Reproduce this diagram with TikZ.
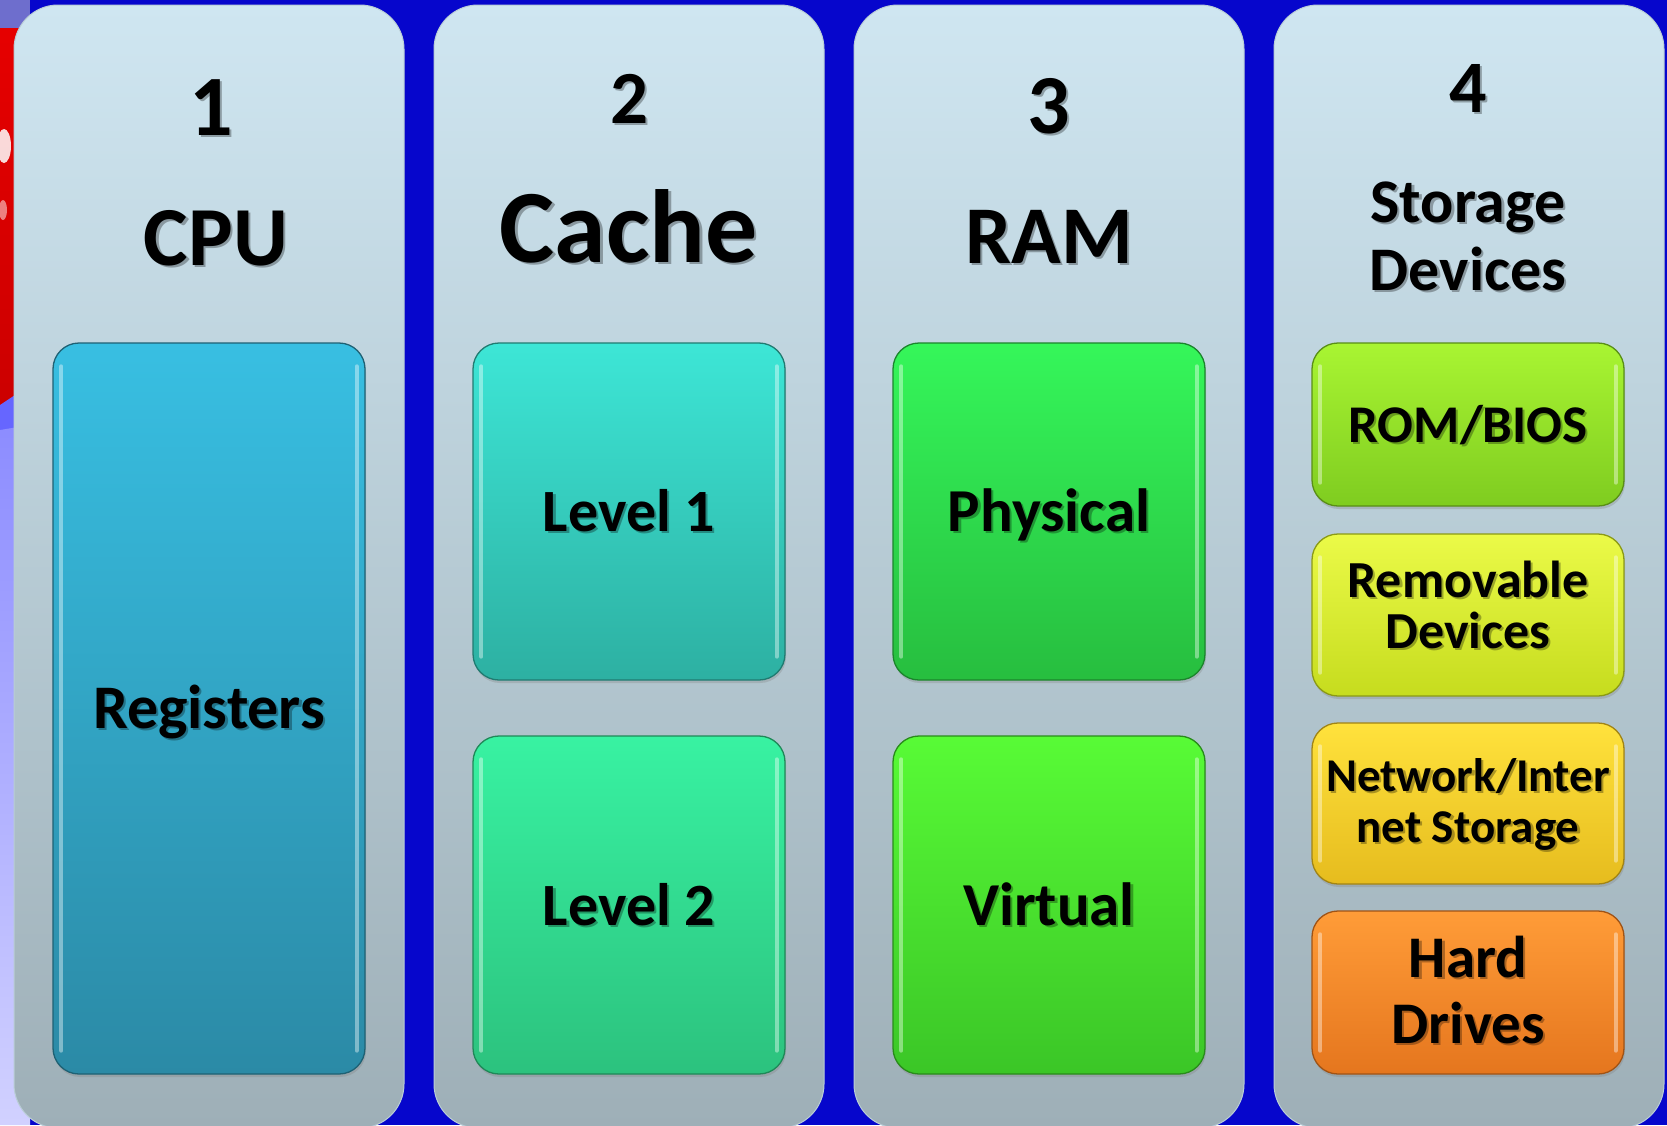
\documentclass[tikz,border=0pt]{standalone}
\usepackage{fontspec}
\setmainfont{Carlito}
\usetikzlibrary{shadows}

\definecolor{bgblue}{HTML}{0606CC}
\definecolor{paneltop}{HTML}{CFE6F1}
\definecolor{panelbot}{HTML}{9EAFB7}
\definecolor{panelrim}{HTML}{B9CDD6}

\definecolor{regT}{HTML}{38BFE2}\definecolor{regB}{HTML}{2B8AA6}
\definecolor{loneT}{HTML}{3DE6D6}\definecolor{loneB}{HTML}{2DB0A2}
\definecolor{ltwoT}{HTML}{38F2A2}\definecolor{ltwoB}{HTML}{2CC27E}
\definecolor{physT}{HTML}{35F65A}\definecolor{physB}{HTML}{27BE3F}
\definecolor{virtT}{HTML}{58FB36}\definecolor{virtB}{HTML}{3BC627}
\definecolor{romT}{HTML}{A9F532}\definecolor{romB}{HTML}{7FCC20}
\definecolor{remT}{HTML}{EBFA48}\definecolor{remB}{HTML}{C6DC1E}
\definecolor{netT}{HTML}{FFE23C}\definecolor{netB}{HTML}{E6BC1E}
\definecolor{hddT}{HTML}{FF9C38}\definecolor{hddB}{HTML}{E5761E}

\tikzset{
  panel/.style={rectangle, rounded corners=44pt, minimum width=390pt,
    minimum height=1123pt, top color=paneltop, bottom color=panelbot,
    draw=panelrim, line width=1pt, inner sep=0pt},
  membox/.style 2 args={rectangle, rounded corners=26pt, minimum width=312pt,
    inner sep=0pt, top color=#1, bottom color=#2, draw=#2!70!black,
    line width=1.3pt,
    drop shadow={opacity=0.3, shadow xshift=1pt, shadow yshift=-3pt}},
  gloss/.style={line width=4pt, line cap=round, draw=white, opacity=0.4},
  txtmain/.style={anchor=base, align=center, text=black, inner sep=0pt},
  txtshade/.style={anchor=base, align=center, text=black, opacity=0.3,
    inner sep=0pt},
}

% label with a soft offset shadow: name, position, font size/leading, text
\newcommand\shtxt[4]{%
  \node[txtshade, font={\bfseries#3}] (#1s) at ([shift={(2.2,2.2)}]#2) {#4};
  \node[txtmain, font={\bfseries#3}] (#1) at (#2) {#4};}

% glossy side streaks on a box
\newcommand\glossy[1]{%
  \draw[gloss] ([xshift=9pt,yshift=-24pt]#1.north west) -- ([xshift=9pt,yshift=24pt]#1.south west);
  \draw[gloss] ([xshift=-9pt,yshift=-24pt]#1.north east) -- ([xshift=-9pt,yshift=24pt]#1.south east);}

\begin{document}
\begin{tikzpicture}[x=1pt,y=-1pt]
\useasboundingbox (0,0) rectangle (1667,1125);

% backdrop
\fill[bgblue] (0,0) rectangle (1667,1125);
\fill[bgblue!60!white!80!gray] (0,0) rectangle (30,28);
\shade[top color=red!90!black, bottom color=red!80!black] (0,28) rectangle (30,405);
\fill[white, opacity=0.85] (4,146) ellipse (7 and 17);
\fill[white, opacity=0.5] (3,210) ellipse (4 and 10);
\fill[blue!60!white] (0,405) -- (30,385) -- (30,425) -- (0,460) -- cycle;
\shade[top color=blue!45!white, bottom color=blue!18!white] (0,430) -- (30,425) -- (30,1125) -- (0,1125) -- cycle;

% four columns
\node[panel] (pcpu)   at (209,566.5)  {};
\node[panel] (pcache) at (629,566.5)  {};
\node[panel] (pram)   at (1049,566.5) {};
\node[panel] (pstore) at (1469,566.5) {};

% column headings
\shtxt{n1}{211,135}{\fontsize{86}{86}\selectfont}{1}
\shtxt{hcpu}{216,265}{\fontsize{84}{84}\selectfont}{CPU}
\shtxt{n2}{629,123}{\fontsize{75}{75}\selectfont}{2}
\shtxt{hcache}{629,262}{\fontsize{104}{104}\selectfont}{Cache}
\shtxt{n3}{1049,133}{\fontsize{84}{84}\selectfont}{3}
\shtxt{hram}{1049,263}{\fontsize{82}{82}\selectfont}{RAM}
\shtxt{n4}{1468,112}{\fontsize{74}{74}\selectfont}{4}
\shtxt{hstore}{1468,290}{\fontsize{62}{68}\selectfont}{Storage\\Devices}

% memory boxes
\node[membox={regT}{regB},  minimum height=731pt] (reg)  at (209,708.5)  {};
\node[membox={loneT}{loneB},minimum height=337pt] (lone) at (629,511.5)  {};
\node[membox={ltwoT}{ltwoB},minimum height=338pt] (ltwo) at (629,905)    {};
\node[membox={physT}{physB},minimum height=337pt] (phys) at (1049,511.5) {};
\node[membox={virtT}{virtB},minimum height=338pt] (virt) at (1049,905)   {};
\node[membox={romT}{romB},  minimum height=163pt] (rom)  at (1468,424.5) {};
\node[membox={remT}{remB},  minimum height=162pt] (rem)  at (1468,615)   {};
\node[membox={netT}{netB},  minimum height=161pt] (net)  at (1468,803.5) {};
\node[membox={hddT}{hddB},  minimum height=163pt] (hdd)  at (1468,992.5) {};

\glossy{reg}\glossy{lone}\glossy{ltwo}\glossy{phys}\glossy{virt}
\glossy{rom}\glossy{rem}\glossy{net}\glossy{hdd}

% box labels
\shtxt{treg}{209,728}{\fontsize{62}{62}\selectfont}{Registers}
\shtxt{tlone}{629,531}{\fontsize{60}{60}\selectfont}{Level 1}
\shtxt{tltwo}{629,925}{\fontsize{60}{60}\selectfont}{Level 2}
\shtxt{tphys}{1049,531}{\fontsize{61}{61}\selectfont}{Physical}
\shtxt{tvirt}{1049,925}{\fontsize{61}{61}\selectfont}{Virtual}
\shtxt{trom}{1468,442}{\fontsize{53}{53}\selectfont}{ROM/BIOS}
\shtxt{trem}{1468,648}{\fontsize{52}{51}\selectfont}{Removable\\Devices}
\shtxt{tnet}{1468,842}{\fontsize{47}{51}\selectfont}{Network/Inter\\net Storage}
\shtxt{thdd}{1468,1043}{\fontsize{59}{66}\selectfont}{Hard\\Drives}
\end{tikzpicture}
\end{document}
